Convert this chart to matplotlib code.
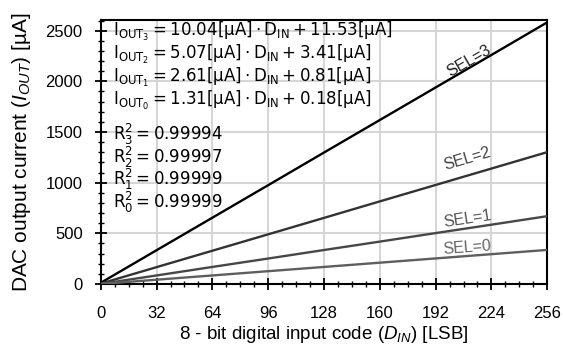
import numpy as np
import matplotlib
matplotlib.use("Agg")
import matplotlib.pyplot as plt
from matplotlib.ticker import MultipleLocator

plt.rcParams['font.family'] = ['Liberation Sans', 'DejaVu Sans']
plt.rcParams['mathtext.fontset'] = 'custom'
plt.rcParams['mathtext.rm'] = 'Liberation Sans'
plt.rcParams['mathtext.it'] = 'Liberation Sans:italic'

# input codes and measured output currents (uA) for each SEL setting
codes = [0, 32, 64, 96, 128, 160, 192, 224, 256]
sel3 = [11.5, 333, 654, 975, 1297, 1618, 1939, 2260, 2582]
sel2 = [3.4, 166, 328, 490, 652, 815, 977, 1139, 1301]
sel1 = [0.8, 84, 168, 251, 335, 418, 502, 585, 669]
sel0 = [0.2, 42, 84, 126, 168, 210, 252, 294, 336]

series = [sel3, sel2, sel1, sel0]
names = ['SEL=3', 'SEL=2', 'SEL=1', 'SEL=0']
line_colors = ['#000000', '#333333', '#474747', '#5e5e5e']
text_colors = ['#222222', '#444444', '#555555', '#666666']
label_pos = [(211, 2200, 30), (210, 1235, 16.5), (210, 640, 8.6), (210, 360, 4.3)]

fit_lines = [
    r'$\mathrm{I_{OUT_3}} = 10.04[\mathrm{\mu A}]\cdot \mathrm{D_{IN}} + 11.53[\mathrm{\mu A}]$',
    r'$\mathrm{I_{OUT_2}} = 5.07[\mathrm{\mu A}]\cdot \mathrm{D_{IN}} + 3.41[\mathrm{\mu A}]$',
    r'$\mathrm{I_{OUT_1}} = 2.61[\mathrm{\mu A}]\cdot \mathrm{D_{IN}} + 0.81[\mathrm{\mu A}]$',
    r'$\mathrm{I_{OUT_0}} = 1.31[\mathrm{\mu A}]\cdot \mathrm{D_{IN}} + 0.18[\mathrm{\mu A}]$',
]
r2_lines = [
    r'$\mathrm{R_3^2} = 0.99994$',
    r'$\mathrm{R_2^2} = 0.99997$',
    r'$\mathrm{R_1^2} = 0.99999$',
    r'$\mathrm{R_0^2} = 0.99999$',
]

fig = plt.figure(figsize=(5.63, 3.51), dpi=100)
ax = fig.add_axes([0.179, 0.191, 0.793, 0.752])

for vals, c in zip(series, line_colors):
    ax.plot(codes, vals, color=c, lw=1.7, zorder=3)

for name, tc, (x, y, rot) in zip(names, text_colors, label_pos):
    ax.text(x, y, name, color=tc, fontsize=11.5, rotation=rot,
            ha='center', va='center', rotation_mode='anchor', zorder=4)

for i, s in enumerate(fit_lines):
    ax.text(0.027, 0.955 - i * 0.087, s, transform=ax.transAxes, fontsize=12,
            va='center', ha='left', math_fontfamily='dejavusans', zorder=4)
for i, s in enumerate(r2_lines):
    ax.text(0.027, 0.565 - i * 0.085, s, transform=ax.transAxes, fontsize=12,
            va='center', ha='left', math_fontfamily='dejavusans', zorder=4)

ax.set_xlim(0, 256)
ax.set_ylim(0, 2605)
ax.xaxis.set_major_locator(MultipleLocator(32))
ax.xaxis.set_minor_locator(MultipleLocator(8))
ax.yaxis.set_major_locator(MultipleLocator(500))
ax.yaxis.set_minor_locator(MultipleLocator(100))
ax.tick_params(which='major', direction='inout', length=8, width=1.3, labelsize=12)
ax.tick_params(which='minor', direction='inout', length=4, width=1.0)
ax.tick_params(axis='x', which='major', pad=12)
ax.tick_params(axis='y', which='major', pad=9)
ax.grid(True, which='major', color='#d6d6d6', lw=1.5, zorder=0)
for sp in ax.spines.values():
    sp.set_linewidth(1.5)

ax.set_xlabel(r'8 - bit digital input code ($D_{IN}$) [LSB]', fontsize=13.5, labelpad=2)
ax.set_ylabel(r'DAC output current ($I_{OUT}$) [µA]', fontsize=15, labelpad=9)

fig.savefig('out.png', dpi=100)
